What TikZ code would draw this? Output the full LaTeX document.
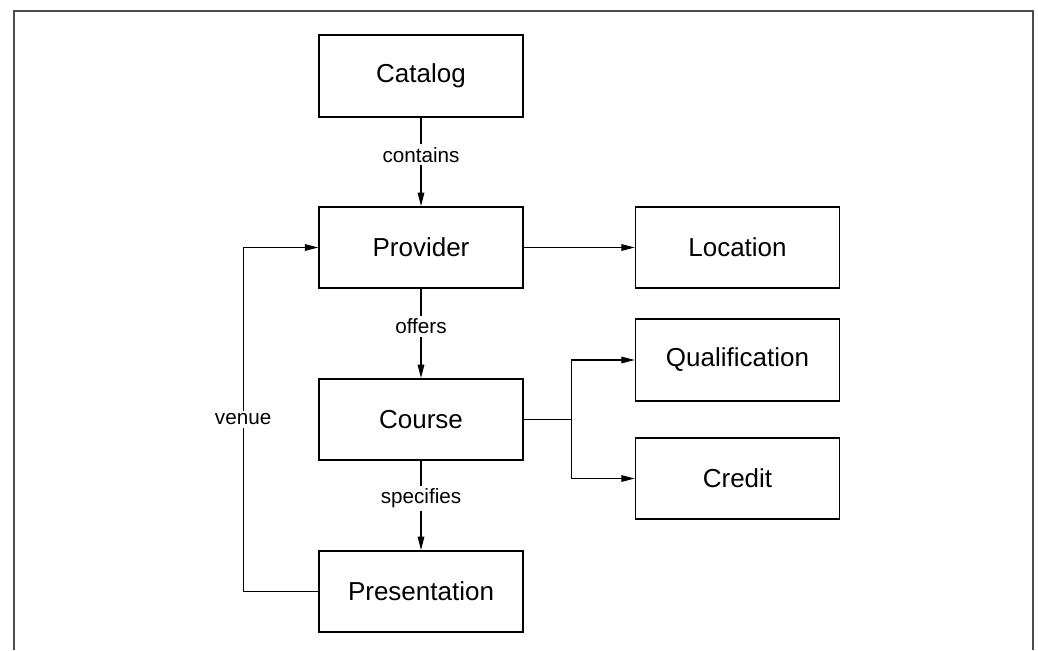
\documentclass[tikz,border=0pt]{standalone}
\usepackage{fontspec}
\setmainfont{Liberation Sans}
\usetikzlibrary{arrows.meta}
\begin{document}
\begin{tikzpicture}[x=0.75pt, y=-0.75pt,
    >={Triangle[length=10pt, width=5pt]},
    entity/.style={draw, line width=1.3pt, minimum width=153pt, minimum height=61pt,
      inner sep=0pt, font=\fontsize{19.5}{23}\selectfont},
    rel/.style={fill=white, inner sep=2pt, font=\fontsize{15.5}{18}\selectfont},
    conn/.style={line width=0.8pt}]
  \useasboundingbox (0,0) rectangle (1038,650);
  % outer frame, open at the bottom
  \draw [black!70, line width=1pt] (14,650) -- (14,11) -- (1033,11) -- (1033,650);
  \node [entity] (catalog) at (421,76) {Catalog};
  \node [entity] (provider) at (421,247.5) {Provider};
  \node [entity] (course) at (421,419.5) {Course};
  \node [entity] (presentation) at (421,591.5) {Presentation};
  \node [entity] (location) at (737.5,247.5) {Location};
  \node [entity] (qualification) at (737.5,360) {Qualification};
  \node [entity] (credit) at (737.5,478.5) {Credit};
  \draw [conn, ->] (catalog) -- node [rel, pos=0.42] {contains} (provider);
  \draw [conn, ->] (provider) -- node [rel, pos=0.42] {offers} (course);
  \draw [conn, ->] (course) -- node [rel, pos=0.42] {specifies} (presentation);
  \draw [conn, ->] (provider) -- (location);
  \draw [conn, ->] (course.east) -- ++(48,0) |- (qualification.west);
  \draw [conn, ->] (course.east) -- ++(48,0) |- (credit.west);
  \draw [conn, ->] (presentation.west) -- ++(-75,0) |- node [rel, pos=0.25] {venue} (provider.west);
\end{tikzpicture}
\end{document}
